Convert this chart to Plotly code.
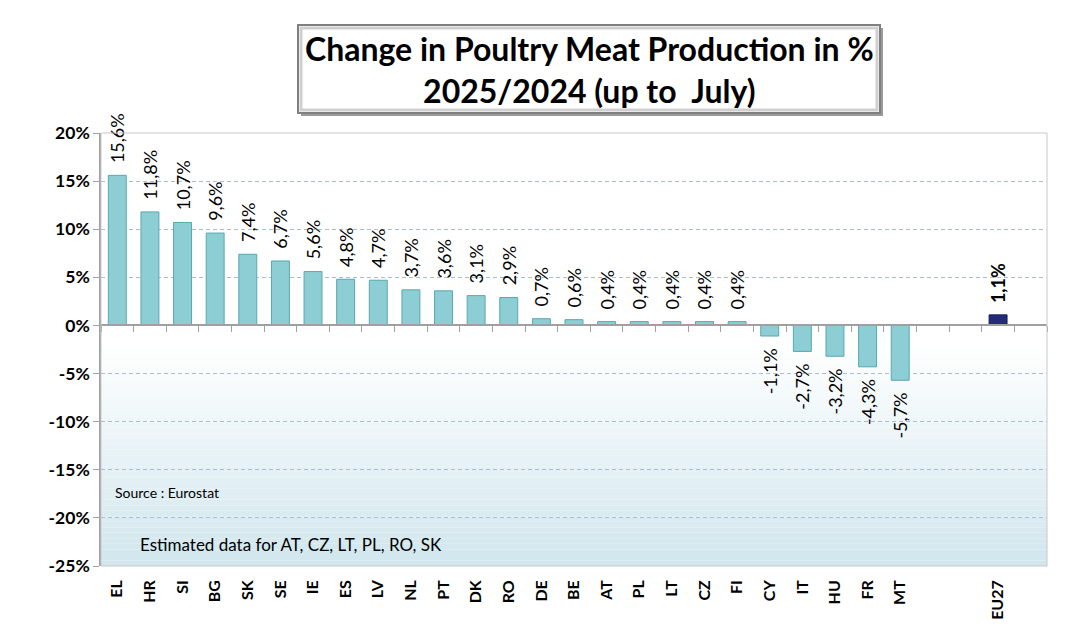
import plotly.graph_objects as go

countries = ["EL", "HR", "SI", "BG", "SK", "SE", "IE", "ES", "LV", "NL", "PT", "DK", "RO",
             "DE", "BE", "AT", "PL", "LT", "CZ", "FI", "CY", "IT", "HU", "FR", "MT"]
changes = [15.6, 11.8, 10.7, 9.6, 7.4, 6.7, 5.6, 4.8, 4.7, 3.7, 3.6, 3.1, 2.9,
           0.7, 0.6, 0.4, 0.4, 0.4, 0.4, 0.4, -1.1, -2.7, -3.2, -4.3, -5.7]
gap_slots = [" ", "  "]
eu_label = ["EU27"]
eu_change = [1.1]
tail_slot = ["   "]
y_ticks = [20, 15, 10, 5, 0, -5, -10, -15, -20, -25]
y_tick_text = ["20%", "15%", "10%", "5%", "0%", "-5%", "-10%", "-15%", "-20%", "-25%"]

all_cats = countries + gap_slots + eu_label + tail_slot

NB = "\u00a0"


def fmt(v):
    s = f"{v:.1f}".replace(".", ",") + "%"
    return (NB * 2 + s) if v >= 0 else (s + NB * 2)


FONT = "Lato"
OFF = 8  # page body offset
W, H = 1092, 642
L, R, T, B = 101 - OFF, 1047 - OFF, 133 - OFF, 566 - OFF


def px(x):
    return (x - OFF - L) / (R - L)


def py(y):
    return (B - (y - OFF)) / (B - T)


fig = go.Figure()

fig.add_trace(go.Bar(
    x=countries, y=changes, xaxis="x2", yaxis="y",
    width=0.55,
    marker=dict(color="#8dcdd4", line=dict(color="#58a8b1", width=1)),
    text=[fmt(v) for v in changes], textposition="outside", textangle=-90,
    textfont=dict(family=FONT, size=18, color="black"),
    constraintext="none", cliponaxis=False, showlegend=False,
))
fig.add_trace(go.Bar(
    x=eu_label, y=eu_change, xaxis="x", yaxis="y",
    width=0.55,
    marker=dict(color="#232c78", line=dict(color="#141a50", width=1)),
    text=[fmt(v) for v in eu_change], textposition="outside", textangle=-90,
    textfont=dict(family=FONT, size=18, color="black", weight="bold"),
    constraintext="none", cliponaxis=False, showlegend=False,
))

# background gradient below zero (decoration)
shapes = []
n = 40
y_top, y_bot = -2.0, -25.0
for i in range(n):
    t = (i + 0.5) / n
    r = round(255 + (208 - 255) * t)
    g = round(255 + (230 - 255) * t)
    b = round(255 + (237 - 255) * t)
    y0 = y_top + (y_bot - y_top) * i / n
    y1 = y_top + (y_bot - y_top) * (i + 1) / n
    shapes.append(dict(type="rect", xref="x domain", yref="y", x0=0, x1=1, y0=y0, y1=y1,
                       fillcolor=f"rgb({r},{g},{b})", line=dict(width=0), layer="below"))
# plot frame
shapes.append(dict(type="rect", xref="paper", yref="paper", x0=0, x1=1, y0=0, y1=1,
                   line=dict(color="#c9c9c9", width=1), layer="above"))

# title box with shadow
bx0, bx1, by0, by1 = 298, 880, 25, 113
shapes.append(dict(type="rect", xref="paper", yref="paper", x0=px(bx0 + 3), x1=px(bx1 + 3),
                   y0=py(by1 + 3), y1=py(by0 + 3), fillcolor="#9a9a9a", line=dict(width=0)))
shapes.append(dict(type="rect", xref="paper", yref="paper", x0=px(bx0), x1=px(bx1),
                   y0=py(by1), y1=py(by0), fillcolor="white", line=dict(color="#808080", width=2)))
shapes.append(dict(type="rect", xref="paper", yref="paper", x0=px(bx0 + 3), x1=px(bx1 - 3),
                   y0=py(by1 - 3), y1=py(by0 + 3), fillcolor="rgba(0,0,0,0)",
                   line=dict(color="#d0d0d0", width=3)))

annotations = [
    dict(xref="paper", yref="paper", x=px(589), y=py(69), xanchor="center", yanchor="middle",
         text="<b>Change in Poultry Meat Production in %<br>2025/2024 (up to\u00a0 July)</b>",
         showarrow=False, font=dict(family=FONT, size=32, color="black")),
    dict(xref="paper", yref="paper", x=px(113), y=py(492), xanchor="left", yanchor="middle",
         text="Source : Eurostat", showarrow=False,
         font=dict(family=FONT, size=14, color="black")),
    dict(xref="paper", yref="paper", x=px(138), y=py(544), xanchor="left", yanchor="middle",
         text="Estimated data for AT, CZ, LT, PL, RO, SK", showarrow=False,
         font=dict(family=FONT, size=17, color="black")),
]

fig.update_layout(
    width=W, height=H,
    margin=dict(l=L, r=W - R, t=T, b=H - B),
    paper_bgcolor="white", plot_bgcolor="white",
    barmode="overlay",
    shapes=shapes, annotations=annotations,
    xaxis=dict(type="category", categoryorder="array", categoryarray=all_cats,
               range=[-0.5, len(all_cats) - 0.5], tickangle=-90, ticks="",
               ticklabelstandoff=10,
               showgrid=False, showline=False, zeroline=False,
               tickfont=dict(family=FONT, size=16, color="black", weight="bold")),
    xaxis2=dict(type="category", categoryorder="array", categoryarray=all_cats,
                overlaying="x", matches="x", anchor="free", position=25 / 45,
                showticklabels=False, ticks="outside", ticklen=6, tickcolor="#a0a0a0",
                tickson="boundaries", showgrid=False, showline=True,
                linecolor="#a0a0a0", linewidth=1.5, zeroline=False),
    yaxis=dict(range=[-25, 20], tickvals=y_ticks, ticktext=y_tick_text,
               showgrid=True, gridcolor="#a8bcdc", griddash="4px,3px", gridwidth=1,
               zeroline=True, zerolinecolor="#a0a0a0", zerolinewidth=1.5,
               showline=True, linecolor="#a0a0a0", linewidth=1.5,
               ticks="outside", ticklen=6, tickcolor="#a0a0a0",
               tickfont=dict(family=FONT, size=17.5, color="black", weight="bold")),
)

fig.write_html("out.html")
